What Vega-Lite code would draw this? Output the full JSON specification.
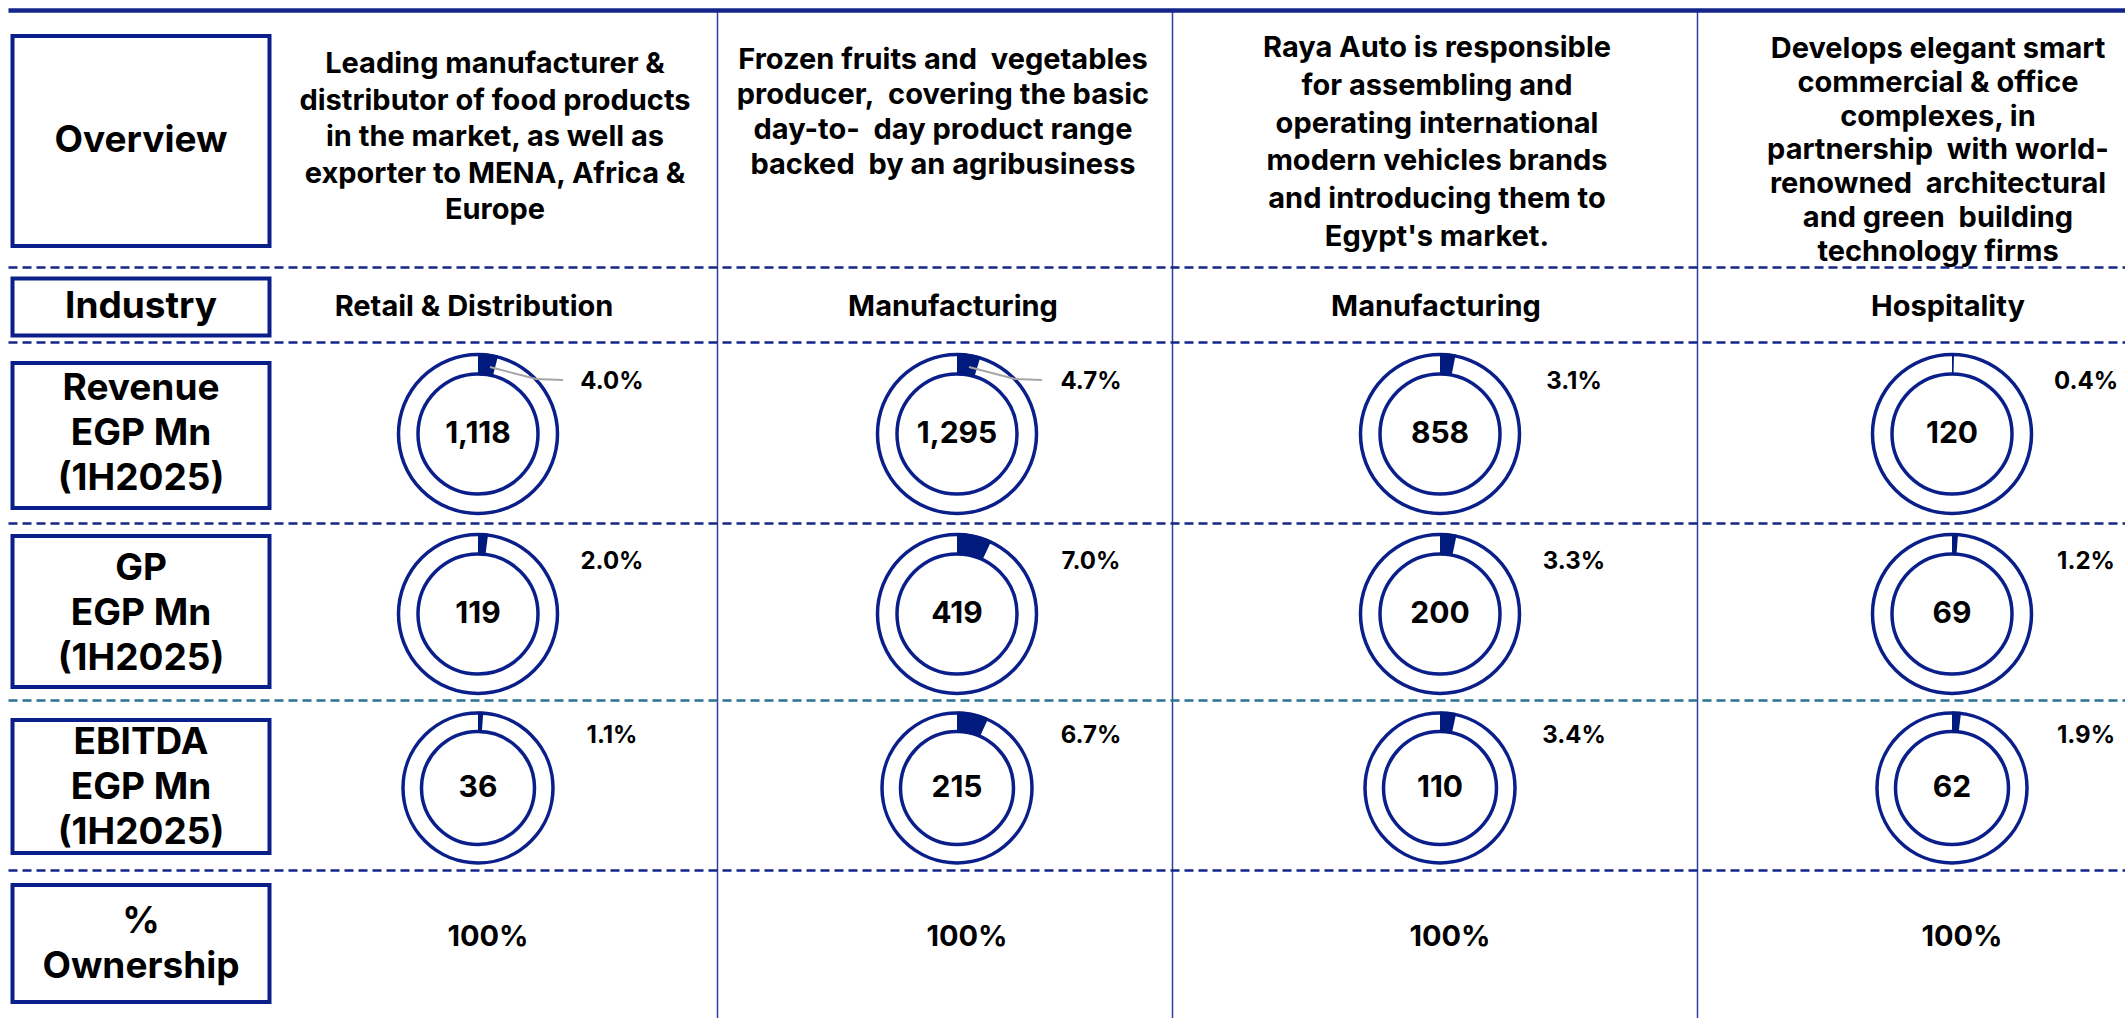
{
  "$schema": "https://vega.github.io/schema/vega-lite/v6.json",
  "width": 2125,
  "height": 1018,
  "autosize": {"type": "none"},
  "padding": 0,
  "background": "#ffffff",
  "config": {"view": {"stroke": null}, "font": "Inter", "axis": {"labels": false, "ticks": false, "domain": false, "grid": false}},
  "datasets": {
    "labels": [
      {"key": "Overview", "row": 0, "label": "Overview"},
      {"key": "Industry", "row": 1, "label": "Industry"},
      {"key": "Revenue", "row": 2, "label": "Revenue\nEGP Mn\n(1H2025)"},
      {"key": "GP", "row": 3, "label": "GP\nEGP Mn\n(1H2025)"},
      {"key": "EBITDA", "row": 4, "label": "EBITDA\nEGP Mn\n(1H2025)"},
      {"key": "Ownership", "row": 5, "label": "%\nOwnership"}
    ],
    "companies": [
      {"col": 1, "overview": "Leading manufacturer &\ndistributor of food products\nin the market, as well as\nexporter to MENA, Africa &\nEurope", "industry": "Retail & Distribution", "ownership": 1},
      {"col": 2, "overview": "Frozen fruits and\u00a0 vegetables\nproducer,\u00a0 covering the basic\nday-to-\u00a0 day product range\nbacked\u00a0 by an agribusiness", "industry": "Manufacturing", "ownership": 1},
      {"col": 3, "overview": "Raya Auto is responsible\nfor assembling and\noperating international\nmodern vehicles brands\nand introducing them to\nEgypt's market.", "industry": "Manufacturing", "ownership": 1},
      {"col": 4, "overview": "Develops elegant smart\ncommercial & office\ncomplexes, in\npartnership\u00a0 with world-\nrenowned\u00a0 architectural\nand green\u00a0 building\ntechnology firms", "industry": "Hospitality", "ownership": 1}
    ],
    "metrics": [
      {"col": 1, "metric": "Revenue", "row": 2, "value": 1118, "share": 0.040},
      {"col": 1, "metric": "GP", "row": 3, "value": 119, "share": 0.020},
      {"col": 1, "metric": "EBITDA", "row": 4, "value": 36, "share": 0.011},
      {"col": 2, "metric": "Revenue", "row": 2, "value": 1295, "share": 0.047},
      {"col": 2, "metric": "GP", "row": 3, "value": 419, "share": 0.070},
      {"col": 2, "metric": "EBITDA", "row": 4, "value": 215, "share": 0.067},
      {"col": 3, "metric": "Revenue", "row": 2, "value": 858, "share": 0.031},
      {"col": 3, "metric": "GP", "row": 3, "value": 200, "share": 0.033},
      {"col": 3, "metric": "EBITDA", "row": 4, "value": 110, "share": 0.034},
      {"col": 4, "metric": "Revenue", "row": 2, "value": 120, "share": 0.004},
      {"col": 4, "metric": "GP", "row": 3, "value": 69, "share": 0.012},
      {"col": 4, "metric": "EBITDA", "row": 4, "value": 62, "share": 0.019}
    ]
  },
  "layer": [
    {
      "data": {"name": "metrics"},
      "transform": [{"filter": "datum.metric !== 'EBITDA'"}],
      "mark": {"type": "point", "shape": "circle", "filled": false, "color": "#0b1f8a", "strokeWidth": 3.5, "size": 25281, "opacity": 1},
      "encoding": {
        "x": {"field": "col", "type": "quantitative", "title": null,
              "scale": {"domain": [-0.5, 0, 1, 1.5, 2, 2.5, 3, 3.5, 4, 4.5], "range": [8, 141, 478, 717, 957, 1172, 1440, 1697, 1952, 2125], "zero": false, "nice": false},
              "axis": {"orient": "top", "values": [1.5, 2.5, 3.5], "grid": true, "gridColor": "#2d40a0", "gridWidth": 1.5, "labels": false, "ticks": false, "domain": false, "title": null}},
        "y": {"field": "row", "type": "quantitative", "title": null,
              "scale": {"domain": [-0.5, 0, 0.5, 1, 1.5, 2, 2.5, 3, 3.5, 4, 4.5, 5, 5.5], "range": [10, 141, 267, 307, 342, 434, 523, 614, 700, 788, 870, 942, 1018], "zero": false, "nice": false},
              "axis": {"orient": "left", "values": [-0.5, 0.5, 1.5, 2.5, 3.5, 4.5], "grid": true,
                       "gridColor": {"condition": {"test": "datum.value === 3.5", "value": "#2b7191"}, "value": "#15268a"},
                       "gridDash": {"condition": {"test": "datum.value === -0.5", "value": []}, "value": [9, 5]},
                       "gridWidth": {"condition": {"test": "datum.value === -0.5", "value": 4.5}, "value": 2.5},
                       "labels": false, "ticks": false, "domain": false, "title": null}}
      }
    },
    {
      "data": {"name": "metrics"},
      "transform": [{"filter": "datum.metric !== 'EBITDA'"}],
      "mark": {"type": "point", "shape": "circle", "filled": false, "color": "#0b1f8a", "strokeWidth": 3.5, "size": 14400, "opacity": 1},
      "encoding": {
        "x": {"field": "col", "type": "quantitative", "title": null},
        "y": {"field": "row", "type": "quantitative", "title": null}
      }
    },
    {
      "data": {"name": "metrics"},
      "transform": [{"filter": "datum.metric === 'EBITDA'"}],
      "mark": {"type": "point", "shape": "circle", "filled": false, "color": "#0b1f8a", "strokeWidth": 3.5, "size": 22500, "opacity": 1},
      "encoding": {
        "x": {"field": "col", "type": "quantitative", "title": null},
        "y": {"field": "row", "type": "quantitative", "title": null}
      }
    },
    {
      "data": {"name": "metrics"},
      "transform": [{"filter": "datum.metric === 'EBITDA'"}],
      "mark": {"type": "point", "shape": "circle", "filled": false, "color": "#0b1f8a", "strokeWidth": 3.5, "size": 12769, "opacity": 1},
      "encoding": {
        "x": {"field": "col", "type": "quantitative", "title": null},
        "y": {"field": "row", "type": "quantitative", "title": null}
      }
    },
    {
      "data": {"name": "metrics"},
      "transform": [{"filter": "datum.metric !== 'EBITDA'"}],
      "mark": {"type": "arc", "radius": 81, "radius2": 59, "color": "#001a7e"},
      "encoding": {
        "x": {"field": "col", "type": "quantitative", "title": null},
        "y": {"field": "row", "type": "quantitative", "title": null},
        "theta": {"field": "share", "type": "quantitative", "stack": null, "scale": {"domain": [0, 1], "range": [0, 6.283185]}}
      }
    },
    {
      "data": {"name": "metrics"},
      "transform": [{"filter": "datum.metric === 'EBITDA'"}],
      "mark": {"type": "arc", "radius": 76.5, "radius2": 55.5, "color": "#001a7e"},
      "encoding": {
        "x": {"field": "col", "type": "quantitative", "title": null},
        "y": {"field": "row", "type": "quantitative", "title": null},
        "theta": {"field": "share", "type": "quantitative", "stack": null, "scale": {"domain": [0, 1], "range": [0, 6.283185]}}
      }
    },
    {
      "data": {"name": "metrics"},
      "transform": [{"filter": "datum.metric === 'Revenue' && datum.col <= 2"}],
      "mark": {"type": "rule", "color": "#a6a6a6", "strokeWidth": 2, "xOffset": 12, "yOffset": -67, "x2Offset": 58, "y2Offset": -55},
      "encoding": {
        "x": {"field": "col", "type": "quantitative", "title": null},
        "x2": {"field": "col"},
        "y": {"field": "row", "type": "quantitative", "title": null},
        "y2": {"field": "row"}
      }
    },
    {
      "data": {"name": "metrics"},
      "transform": [{"filter": "datum.metric === 'Revenue' && datum.col <= 2"}],
      "mark": {"type": "rule", "color": "#a6a6a6", "strokeWidth": 2, "xOffset": 58, "yOffset": -55, "x2Offset": 85, "y2Offset": -54},
      "encoding": {
        "x": {"field": "col", "type": "quantitative", "title": null},
        "x2": {"field": "col"},
        "y": {"field": "row", "type": "quantitative", "title": null},
        "y2": {"field": "row"}
      }
    },
    {
      "data": {"name": "metrics"},
      "mark": {"type": "text", "fontSize": 30, "fontWeight": "bold", "color": "#000000", "align": "center", "baseline": "middle"},
      "encoding": {
        "x": {"field": "col", "type": "quantitative", "title": null},
        "y": {"field": "row", "type": "quantitative", "title": null},
        "text": {"field": "value", "type": "quantitative", "format": ","}
      }
    },
    {
      "data": {"name": "metrics"},
      "mark": {"type": "text", "fontSize": 24, "fontWeight": "bold", "color": "#000000", "align": "center", "baseline": "middle", "dx": 134, "dy": -52},
      "encoding": {
        "x": {"field": "col", "type": "quantitative", "title": null},
        "y": {"field": "row", "type": "quantitative", "title": null},
        "text": {"field": "share", "type": "quantitative", "format": ".1%"}
      }
    },
    {
      "data": {"name": "labels"},
      "mark": {"type": "point", "filled": false, "color": "#0b1f8a", "strokeWidth": 4, "size": 66049, "opacity": 1},
      "encoding": {
        "x": {"datum": 0, "type": "quantitative", "title": null},
        "y": {"field": "row", "type": "quantitative", "title": null},
        "shape": {"field": "key", "type": "nominal", "legend": null,
                  "scale": {"domain": ["Overview", "Industry", "Revenue", "GP", "EBITDA", "Ownership"],
                            "range": ["M-1,-0.817H1V0.817H-1Z", "M-1,-0.222H1V0.222H-1Z", "M-1,-0.552H1V0.576H-1Z", "M-1,-0.607H1V0.568H-1Z", "M-1,-0.529H1V0.506H-1Z", "M-1,-0.443H1V0.467H-1Z"]}}
      }
    },
    {
      "data": {"name": "labels"},
      "transform": [{"filter": "datum.row <= 1"}],
      "mark": {"type": "text", "fontSize": 37, "fontWeight": "bold", "color": "#000000", "align": "center", "baseline": "middle"},
      "encoding": {
        "x": {"datum": 0, "type": "quantitative", "title": null},
        "y": {"field": "row", "type": "quantitative", "title": null},
        "text": {"field": "label", "type": "nominal"}
      }
    },
    {
      "data": {"name": "labels"},
      "transform": [{"filter": "datum.row >= 2 && datum.row <= 4"}],
      "mark": {"type": "text", "fontSize": 37, "fontWeight": "bold", "color": "#000000", "align": "center", "baseline": "middle", "lineBreak": "\n", "lineHeight": 45, "dy": -45},
      "encoding": {
        "x": {"datum": 0, "type": "quantitative", "title": null},
        "y": {"field": "row", "type": "quantitative", "title": null},
        "text": {"field": "label", "type": "nominal"}
      }
    },
    {
      "data": {"name": "labels"},
      "transform": [{"filter": "datum.row === 5"}],
      "mark": {"type": "text", "fontSize": 37, "fontWeight": "bold", "color": "#000000", "align": "center", "baseline": "middle", "lineBreak": "\n", "lineHeight": 45, "dy": -20},
      "encoding": {
        "x": {"datum": 0, "type": "quantitative", "title": null},
        "y": {"field": "row", "type": "quantitative", "title": null},
        "text": {"field": "label", "type": "nominal"}
      }
    },
    {
      "data": {"name": "companies"},
      "transform": [{"filter": "datum.col === 1"}],
      "mark": {"type": "text", "fontSize": 29, "fontWeight": "bold", "color": "#000000", "align": "center", "baseline": "middle", "lineBreak": "\n", "lineHeight": 36.5, "dx": 17, "dy": -77},
      "encoding": {
        "x": {"field": "col", "type": "quantitative", "title": null},
        "y": {"datum": 0, "type": "quantitative", "title": null},
        "text": {"field": "overview", "type": "nominal"}
      }
    },
    {
      "data": {"name": "companies"},
      "transform": [{"filter": "datum.col === 2"}],
      "mark": {"type": "text", "fontSize": 29, "fontWeight": "bold", "color": "#000000", "align": "center", "baseline": "middle", "lineBreak": "\n", "lineHeight": 35, "dx": -14, "dy": -81},
      "encoding": {
        "x": {"field": "col", "type": "quantitative", "title": null},
        "y": {"datum": 0, "type": "quantitative", "title": null},
        "text": {"field": "overview", "type": "nominal"}
      }
    },
    {
      "data": {"name": "companies"},
      "transform": [{"filter": "datum.col === 3"}],
      "mark": {"type": "text", "fontSize": 29, "fontWeight": "bold", "color": "#000000", "align": "center", "baseline": "middle", "lineBreak": "\n", "lineHeight": 37.8, "dx": -3, "dy": -93},
      "encoding": {
        "x": {"field": "col", "type": "quantitative", "title": null},
        "y": {"datum": 0, "type": "quantitative", "title": null},
        "text": {"field": "overview", "type": "nominal"}
      }
    },
    {
      "data": {"name": "companies"},
      "transform": [{"filter": "datum.col === 4"}],
      "mark": {"type": "text", "fontSize": 29, "fontWeight": "bold", "color": "#000000", "align": "center", "baseline": "middle", "lineBreak": "\n", "lineHeight": 33.8, "dx": -14, "dy": -92},
      "encoding": {
        "x": {"field": "col", "type": "quantitative", "title": null},
        "y": {"datum": 0, "type": "quantitative", "title": null},
        "text": {"field": "overview", "type": "nominal"}
      }
    },
    {
      "data": {"name": "companies"},
      "mark": {"type": "text", "fontSize": 29, "fontWeight": "bold", "color": "#000000", "align": "center", "baseline": "middle", "dx": -4},
      "encoding": {
        "x": {"field": "col", "type": "quantitative", "title": null},
        "y": {"datum": 1, "type": "quantitative", "title": null},
        "text": {"field": "industry", "type": "nominal"}
      }
    },
    {
      "data": {"name": "companies"},
      "mark": {"type": "text", "fontSize": 29, "fontWeight": "bold", "color": "#000000", "align": "center", "baseline": "middle", "dx": 10, "dy": -5},
      "encoding": {
        "x": {"field": "col", "type": "quantitative", "title": null},
        "y": {"datum": 5, "type": "quantitative", "title": null},
        "text": {"field": "ownership", "type": "quantitative", "format": ".0%"}
      }
    }
  ]
}
